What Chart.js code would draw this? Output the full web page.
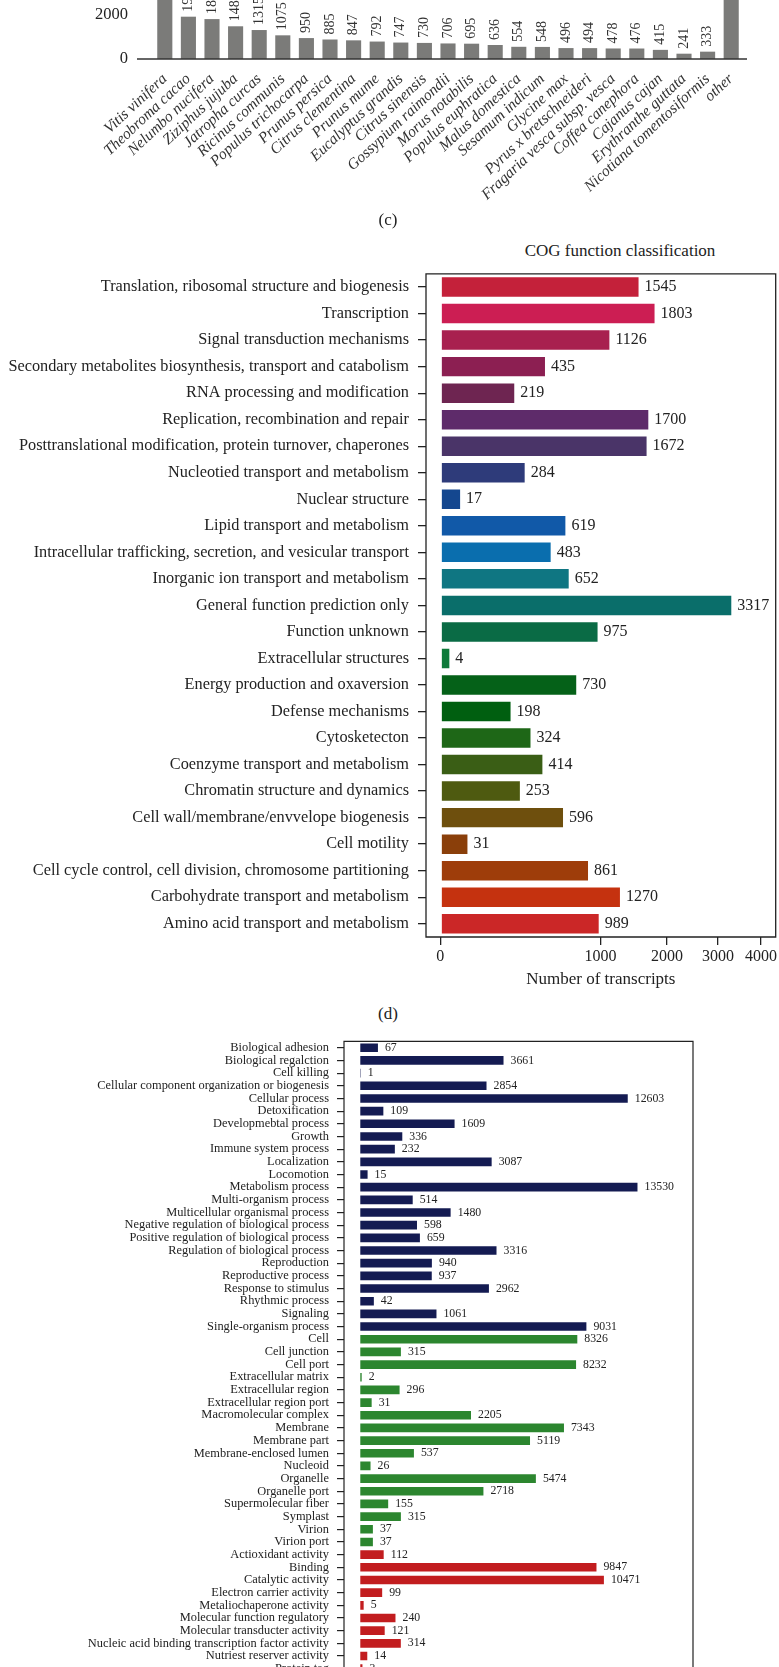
<!DOCTYPE html>
<html>
<head>
<meta charset="utf-8">
<script src="https://cdn.jsdelivr.net/npm/chart.js@4.4.1/dist/chart.umd.min.js"></script>
<style>
  html, body { margin: 0; padding: 0; background: #fff; }
  body { width: 779px; height: 1667px; overflow: hidden; position: relative; font-family: 'Liberation Serif', serif; color: #222; }
  .box { position: absolute; left: 0; }
  .tag { position: absolute; font-size: 17px; transform: translate(-50%, -50%); white-space: nowrap; }
</style>
</head>
<body>
<div class="box" style="top:-140px"><canvas id="species" width="779" height="354"></canvas></div>
<div class="tag" style="left:388px;top:220px">(c)</div>
<div class="tag" style="left:620px;top:251px">COG function classification</div>
<div class="box" style="top:255px"><canvas id="cog" width="779" height="735"></canvas></div>
<div class="tag" style="left:388px;top:1014px">(d)</div>
<div class="box" style="top:1026px"><canvas id="go" width="779" height="680"></canvas></div>

<script>
// (c) top species hits
const speciesNames = ['Vitis vinifera', 'Theobroma cacao', 'Nelumbo nucifera', 'Ziziphus jujuba', 'Jatropha curcas',
  'Ricinus communis', 'Populus trichocarpa', 'Prunus persica', 'Citrus clementina', 'Prunus mume',
  'Eucalyptus grandis', 'Citrus sinensis', 'Gossypium raimondii', 'Morus notabilis', 'Populus euphratica',
  'Malus domestica', 'Sesamum indicum', 'Glycine max', 'Pyrus x bretschneideri', 'Fragaria vesca subsp. vesca',
  'Coffea canephora', 'Cajanus cajan', 'Erythranthe guttata', 'Nicotiana tomentosiformis', 'other'];
const speciesCounts = [6213, 1921, 1812, 1485, 1315, 1075, 950, 885, 847, 792, 747, 730, 706, 695, 636,
  554, 548, 496, 494, 478, 476, 415, 241, 333, 5200];
const speciesTicks = [0, 2000, 4000, 6000];

// (d) COG
const cogCategories = ['Translation, ribosomal structure and biogenesis', 'Transcription', 'Signal transduction mechanisms',
  'Secondary metabolites biosynthesis, transport and catabolism', 'RNA processing and modification',
  'Replication, recombination and repair', 'Posttranslational modification, protein turnover, chaperones',
  'Nucleotied transport and metabolism', 'Nuclear structure', 'Lipid transport and metabolism',
  'Intracellular trafficking, secretion, and vesicular transport', 'Inorganic ion transport and metabolism',
  'General function prediction only', 'Function unknown', 'Extracellular structures',
  'Energy production and oxaversion', 'Defense mechanisms', 'Cytosketecton', 'Coenzyme transport and metabolism',
  'Chromatin structure and dynamics', 'Cell wall/membrane/envvelope biogenesis', 'Cell motility',
  'Cell cycle control, cell division, chromosome partitioning', 'Carbohydrate transport and metabolism',
  'Amino acid transport and metabolism'];
const cogCounts = [1545, 1803, 1126, 435, 219, 1700, 1672, 284, 17, 619, 483, 652, 3317, 975, 4,
  730, 198, 324, 414, 253, 596, 31, 861, 1270, 989];
const cogColors = ['#c4213a', '#cc1e53', '#a8204f', '#8c1f52', '#6e2551', '#5e2b6a', '#4a3468', '#2e3b7a',
  '#14478f', '#1159a8', '#0a6eae', '#0f7682', '#0a6e6a', '#0a6b45', '#0e7a3a', '#056118', '#005f10',
  '#1e6717', '#3a5e15', '#4e5a10', '#6e4f0d', '#8a3f0a', '#9e3d0a', '#c5320f', '#cb2727'];
const cogTicks = [0, 1000, 2000, 3000, 4000];

// (e) GO
const bpTerms = ['Biological adhesion', 'Biological regalction', 'Cell killing', 'Cellular component organization or biogenesis',
  'Cellular process', 'Detoxification', 'Developmebtal process', 'Growth', 'Immune system process', 'Localization',
  'Locomotion', 'Metabolism process', 'Multi-organism process', 'Multicellular organismal process',
  'Negative regulation of biological process', 'Positive regulation of biological process',
  'Regulation of biological process', 'Reproduction', 'Reproductive process', 'Response to stimulus',
  'Rhythmic process', 'Signaling', 'Single-organism process'];
const bpCounts = [67, 3661, 1, 2854, 12603, 109, 1609, 336, 232, 3087, 15, 13530, 514, 1480, 598, 659,
  3316, 940, 937, 2962, 42, 1061, 9031];
const ccTerms = ['Cell', 'Cell junction', 'Cell port', 'Extracellular matrix', 'Extracellular region',
  'Extracellular region port', 'Macromolecular complex', 'Membrane', 'Membrane part', 'Membrane-enclosed lumen',
  'Nucleoid', 'Organelle', 'Organelle port', 'Supermolecular fiber', 'Symplast', 'Virion', 'Virion port'];
const ccCounts = [8326, 315, 8232, 2, 296, 31, 2205, 7343, 5119, 537, 26, 5474, 2718, 155, 315, 37, 37];
const mfTerms = ['Actioxidant activity', 'Binding', 'Catalytic activity', 'Electron carrier activity',
  'Metaliochaperone activity', 'Molecular function regulatory', 'Molecular transducter activity',
  'Nucleic acid binding transcription factor activity', 'Nutriest reserver activity', 'Protein tag'];
const mfCounts = [112, 9847, 10471, 99, 5, 240, 121, 314, 14, 3];
const goColors = { bp: '#141b52', cc: '#2c862f', mf: '#c21d1f' };

const SERIF = "'Liberation Serif', 'DejaVu Serif', serif";

// square-root axis, like ggplot's scale_x_sqrt
const sroot = v => Math.sign(v) * Math.sqrt(Math.abs(v));
class SqrtScale extends Chart.LinearScale {
  static id = 'sqrt';
  getPixelForValue(value) {
    const a = sroot(this.min), b = sroot(this.max);
    return this.getPixelForDecimal((sroot(value) - a) / (b - a));
  }
  getValueForPixel(pixel) {
    const a = sroot(this.min), b = sroot(this.max);
    const t = a + this.getDecimalForPixel(pixel) * (b - a);
    return Math.sign(t) * t * t;
  }
}
Chart.register(SqrtScale);

const valueLabels = {
  id: 'valueLabels',
  afterDatasetsDraw(chart, args, opts) {
    const ctx = chart.ctx;
    const values = chart.data.datasets[0].data;
    ctx.save();
    ctx.font = opts.font;
    ctx.fillStyle = opts.color;
    ctx.textAlign = 'left';
    ctx.textBaseline = 'middle';
    chart.getDatasetMeta(0).data.forEach((bar, i) => {
      if (opts.vertical) {
        ctx.save();
        ctx.translate(bar.x, bar.y - opts.gap);
        ctx.rotate(-Math.PI / 2);
        ctx.fillText(String(values[i]), 0, 0);
        ctx.restore();
      } else {
        ctx.fillText(String(values[i]), bar.x + opts.gap, bar.y);
      }
    });
    ctx.restore();
  }
};

const frame = {
  id: 'frame',
  afterDraw(chart, args, opts) {
    const { ctx, chartArea: a } = chart;
    ctx.save();
    ctx.strokeStyle = opts.color;
    ctx.lineWidth = opts.width;
    ctx.beginPath();
    if (opts.baseline) {
      ctx.moveTo(a.left - opts.extendLeft, a.bottom);
      ctx.lineTo(a.right + opts.extendRight, a.bottom);
    } else {
      ctx.rect(a.left, a.top, a.right - a.left, a.bottom - a.top);
    }
    ctx.stroke();
    ctx.restore();
  }
};

const noChrome = { legend: { display: false }, tooltip: { enabled: false } };

// (c)
new Chart(document.getElementById('species'), {
  type: 'bar',
  data: {
    labels: speciesNames,
    datasets: [{ data: speciesCounts, backgroundColor: '#7b7b79', barPercentage: 0.64, categoryPercentage: 1 }]
  },
  options: {
    responsive: false,
    animation: false,
    layout: { padding: { top: 20, right: 36 } },
    plugins: {
      ...noChrome,
      valueLabels: { vertical: true, gap: 5, font: '14px ' + SERIF, color: '#333' },
      frame: { baseline: true, extendLeft: 16, extendRight: 4, color: '#333', width: 1.5 }
    },
    scales: {
      x: {
        grid: { display: false },
        border: { display: false },
        ticks: { autoSkip: false, minRotation: 43, maxRotation: 43, padding: 3, color: '#333',
          font: { family: SERIF, style: 'italic', size: 15.5 } },
        afterFit: s => { s.height = 155; }
      },
      y: {
        min: 0, max: 7450,
        afterBuildTicks: s => { s.ticks = speciesTicks.map(v => ({ value: v })); },
        grid: { display: false, drawTicks: false },
        border: { display: false },
        ticks: { callback: v => String(v), padding: 25, color: '#222', font: { family: SERIF, size: 16.5 } },
        afterFit: s => { s.width = 153; }
      }
    }
  },
  plugins: [valueLabels, frame]
});

// (d)
new Chart(document.getElementById('cog'), {
  type: 'bar',
  data: {
    labels: cogCategories,
    datasets: [{ data: cogCounts, backgroundColor: cogColors, borderColor: 'rgba(255,255,255,0.45)',
      borderWidth: 1, borderSkipped: false, barPercentage: 0.81, categoryPercentage: 1 }]
  },
  options: {
    indexAxis: 'y',
    responsive: false,
    animation: false,
    layout: { padding: { top: 8, right: 1 } },
    plugins: {
      ...noChrome,
      valueLabels: { gap: 5, font: '16px ' + SERIF, color: '#222' },
      frame: { color: '#222', width: 1.3 }
    },
    scales: {
      x: {
        type: 'sqrt', min: -7.84, max: 4376,
        afterBuildTicks: s => { s.ticks = cogTicks.map(v => ({ value: v })); },
        grid: { drawOnChartArea: false, tickLength: 8, color: '#222', lineWidth: 1.3 },
        border: { display: false },
        ticks: { callback: v => String(v), maxRotation: 0, padding: 2, color: '#222', font: { family: SERIF, size: 16 } },
        title: { display: true, text: 'Number of transcripts', color: '#222', padding: 0, font: { family: SERIF, size: 17 } },
        afterFit: s => { s.height = 53; }
      },
      y: {
        grid: { drawOnChartArea: false, offset: false, tickLength: 8, color: '#222', lineWidth: 1.3 },
        border: { display: false },
        ticks: { autoSkip: false, padding: 9, color: '#222', font: { family: SERIF, size: 16.3 } },
        afterFit: s => { s.width = 426; }
      }
    }
  },
  plugins: [valueLabels, frame]
});

// (e)
const goTerms = [...bpTerms, ...ccTerms, ...mfTerms];
const goCounts = [...bpCounts, ...ccCounts, ...mfCounts];
const goBarColors = [
  ...bpTerms.map(() => goColors.bp),
  ...ccTerms.map(() => goColors.cc),
  ...mfTerms.map(() => goColors.mf)
];

new Chart(document.getElementById('go'), {
  type: 'bar',
  data: {
    labels: goTerms,
    datasets: [{ data: goCounts, backgroundColor: goBarColors, borderColor: 'rgba(255,255,255,0.4)',
      borderWidth: 1, borderSkipped: false, barPercentage: 0.84, categoryPercentage: 1 }]
  },
  options: {
    indexAxis: 'y',
    responsive: false,
    animation: false,
    layout: { padding: { top: 10, right: 86, bottom: 31 } },
    plugins: {
      ...noChrome,
      valueLabels: { gap: 6, font: '11.8px ' + SERIF, color: '#222' },
      frame: { color: '#222', width: 1.2 }
    },
    scales: {
      x: { type: 'sqrt', min: -40.6, max: 19330, display: false },
      y: {
        grid: { drawOnChartArea: false, offset: false, tickLength: 7, color: '#222', lineWidth: 1.2 },
        border: { display: false },
        ticks: { autoSkip: false, padding: 8, color: '#222', font: { family: SERIF, size: 12.4 } },
        afterFit: s => { s.width = 344; }
      }
    }
  },
  plugins: [valueLabels, frame]
});
</script>
</body>
</html>
